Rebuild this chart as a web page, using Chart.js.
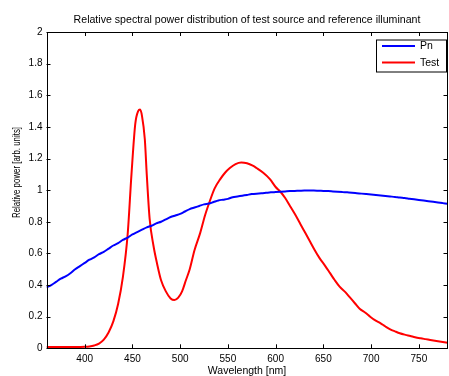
<!DOCTYPE html>
<html>
<head>
<meta charset="utf-8">
<script src="https://cdn.jsdelivr.net/npm/chart.js@4.4.1/dist/chart.umd.min.js"></script>
<style>
  html, body { margin: 0; padding: 0; background: #ffffff; }
  #wrap { position: relative; width: 449px; height: 376px; }
</style>
</head>
<body>
<div id="wrap"><canvas id="c" width="449" height="376"></canvas></div>
<script>
// ---- Data ----
const chartTitle = "Relative spectral power distribution of test source and reference illuminant";
const xAxisTitle = "Wavelength [nm]";
const yAxisTitle = "Relative power [arb. units]";
const xTicks = [400, 450, 500, 550, 600, 650, 700, 750];
const yTicks = [0, 0.2, 0.4, 0.6, 0.8, 1, 1.2, 1.4, 1.6, 1.8, 2];
const seriesNames = ["Pn", "Test"];

const pnWavelength = [360,365,370,375,380,385,390,395,400,405,410,415,420,425,430,435,440,445,450,455,460,465,470,475,480,485,490,495,500,505,510,515,520,525,530,535,540,545,550,555,560,565,570,575,580,585,590,595,600,605,610,615,620,625,630,635,640,645,650,655,660,665,670,675,680,685,690,695,700,705,710,715,720,725,730,735,740,745,750,755,760,765,770,775,780];
const pnValues = [0.385,0.40,0.42,0.44,0.455,0.475,0.50,0.52,0.54,0.56,0.575,0.595,0.61,0.63,0.65,0.665,0.685,0.70,0.72,0.735,0.75,0.765,0.775,0.79,0.80,0.815,0.83,0.84,0.85,0.865,0.88,0.89,0.90,0.91,0.915,0.925,0.935,0.94,0.945,0.955,0.96,0.965,0.97,0.975,0.978,0.98,0.983,0.986,0.988,0.99,0.992,0.994,0.995,0.996,0.997,0.997,0.997,0.996,0.995,0.994,0.992,0.99,0.988,0.986,0.984,0.981,0.978,0.975,0.972,0.969,0.966,0.963,0.96,0.957,0.953,0.95,0.946,0.942,0.938,0.934,0.93,0.926,0.922,0.918,0.914];

const testWavelength = [360,380,400,405,410,415,420,425,430,435,440,445,449,453,456,458,460,463,465,468,472,476,480,485,490,494,498,502,506,510,515,521,526,531,536,542,547,552,558,564,570,576,580,587,594,600,605,610,615,620,626,631,636,641,646,652,657,662,667,673,678,683,688,694,699,704,710,715,720,725,730,736,741,746,752,757,762,770,780];
const testValues = [0.008,0.008,0.01,0.012,0.018,0.03,0.055,0.10,0.17,0.28,0.45,0.72,1.10,1.42,1.50,1.51,1.47,1.32,1.10,0.82,0.65,0.53,0.43,0.36,0.315,0.305,0.32,0.36,0.43,0.50,0.62,0.73,0.84,0.93,1.01,1.07,1.11,1.14,1.165,1.175,1.17,1.155,1.14,1.11,1.07,1.02,0.99,0.95,0.90,0.85,0.785,0.73,0.675,0.62,0.57,0.52,0.475,0.43,0.39,0.355,0.32,0.285,0.25,0.225,0.20,0.178,0.158,0.138,0.12,0.107,0.095,0.085,0.078,0.07,0.063,0.058,0.053,0.045,0.035];

const FONT = "'Liberation Sans', Arial, Helvetica, sans-serif";

const matlabFrame = {
  id: 'matlabFrame',
  afterDatasetsDraw(chart) {
    const ctx = chart.ctx;
    const a = chart.chartArea;
    const xs = chart.scales.x, ys = chart.scales.y;
    ctx.save();
    // box
    ctx.strokeStyle = '#000';
    ctx.lineWidth = 1;
    ctx.strokeRect(Math.round(a.left) + 0.5, Math.round(a.top) + 0.5,
                   Math.round(a.right) - Math.round(a.left) - 1, Math.round(a.bottom) - Math.round(a.top));
    // inward ticks
    const tl = 4;
    ctx.beginPath();
    xTicks.forEach(v => {
      const px = Math.round(xs.getPixelForValue(v)) + 0.5;
      ctx.moveTo(px, a.bottom); ctx.lineTo(px, a.bottom - tl);
      ctx.moveTo(px, a.top); ctx.lineTo(px, a.top + tl);
    });
    yTicks.forEach(v => {
      const py = Math.round(ys.getPixelForValue(v)) + 0.5;
      ctx.moveTo(a.left, py); ctx.lineTo(a.left + tl, py);
      ctx.moveTo(a.right, py); ctx.lineTo(a.right - tl, py);
    });
    ctx.stroke();

    // legend box
    const lx = 376, ly = 39.5, lw = 70, lh = 32;
    ctx.fillStyle = '#fff';
    ctx.fillRect(lx, ly, lw, lh);
    ctx.strokeStyle = '#000';
    ctx.strokeRect(lx + 0.5, ly + 0.5, lw, lh);
    ctx.font = '10.5px ' + FONT;
    ctx.textBaseline = 'middle';
    ctx.textAlign = 'left';
    chart.data.datasets.forEach((ds, i) => {
      const yy = 46 + i * 16.5;
      ctx.strokeStyle = ds.borderColor;
      ctx.lineWidth = 2;
      ctx.beginPath();
      ctx.moveTo(382, yy); ctx.lineTo(415, yy);
      ctx.stroke();
      ctx.fillStyle = '#000';
      ctx.fillText(ds.label, 420, yy + 0.5);
    });

    // titles
    ctx.fillStyle = '#000';
    ctx.textAlign = 'center';
    ctx.textBaseline = 'middle';
    ctx.font = '10.6px ' + FONT;
    ctx.fillText(chartTitle, (a.left + a.right) / 2, 20);
    ctx.font = '10.5px ' + FONT;
    ctx.fillText(xAxisTitle, (a.left + a.right) / 2, 371.5);
    ctx.font = '10px ' + FONT;
    const w = ctx.measureText(yAxisTitle).width;
    ctx.translate(17, 172.5);
    ctx.rotate(-Math.PI / 2);
    ctx.scale(91 / w, 1);
    ctx.fillText(yAxisTitle, 0, 0);
    ctx.restore();
  }
};

new Chart(document.getElementById('c'), {
  type: 'line',
  data: {
    datasets: [
      {
        label: seriesNames[0],
        data: pnWavelength.map((x, i) => ({ x: x, y: pnValues[i] })),
        borderColor: '#0000ff',
        borderWidth: 2,
        pointRadius: 0,
        cubicInterpolationMode: 'monotone',
        fill: false
      },
      {
        label: seriesNames[1],
        data: testWavelength.map((x, i) => ({ x: x, y: testValues[i] })),
        borderColor: '#ff0000',
        borderWidth: 2,
        pointRadius: 0,
        cubicInterpolationMode: 'monotone',
        fill: false
      }
    ]
  },
  options: {
    responsive: false,
    animation: false,
    devicePixelRatio: 1,
    layout: { padding: { left: 0, right: 1.5, top: 32, bottom: 0 } },
    plugins: {
      legend: { display: false },
      title: { display: false },
      tooltip: { enabled: false }
    },
    scales: {
      x: {
        type: 'linear',
        min: 360,
        max: 780,
        afterBuildTicks: (axis) => { axis.ticks = xTicks.map(v => ({ value: v })); },
        afterFit: (axis) => { axis.height = 376 - 348.3; },
        grid: { display: false, drawTicks: false },
        border: { display: false },
        ticks: {
          color: '#000',
          font: { family: FONT, size: 10 },
          padding: 5,
          maxRotation: 0,
          autoSkip: false,
          callback: (v) => String(v)
        }
      },
      y: {
        type: 'linear',
        min: 0,
        max: 2,
        afterBuildTicks: (axis) => { axis.ticks = yTicks.map(v => ({ value: v })); },
        afterFit: (axis) => { axis.width = 46.5; },
        grid: { display: false, drawTicks: false },
        border: { display: false },
        ticks: {
          color: '#000',
          font: { family: FONT, size: 10 },
          padding: 4,
          autoSkip: false,
          callback: (v) => String(Math.round(v * 10) / 10)
        }
      }
    }
  },
  plugins: [matlabFrame]
});
</script>
</body>
</html>
